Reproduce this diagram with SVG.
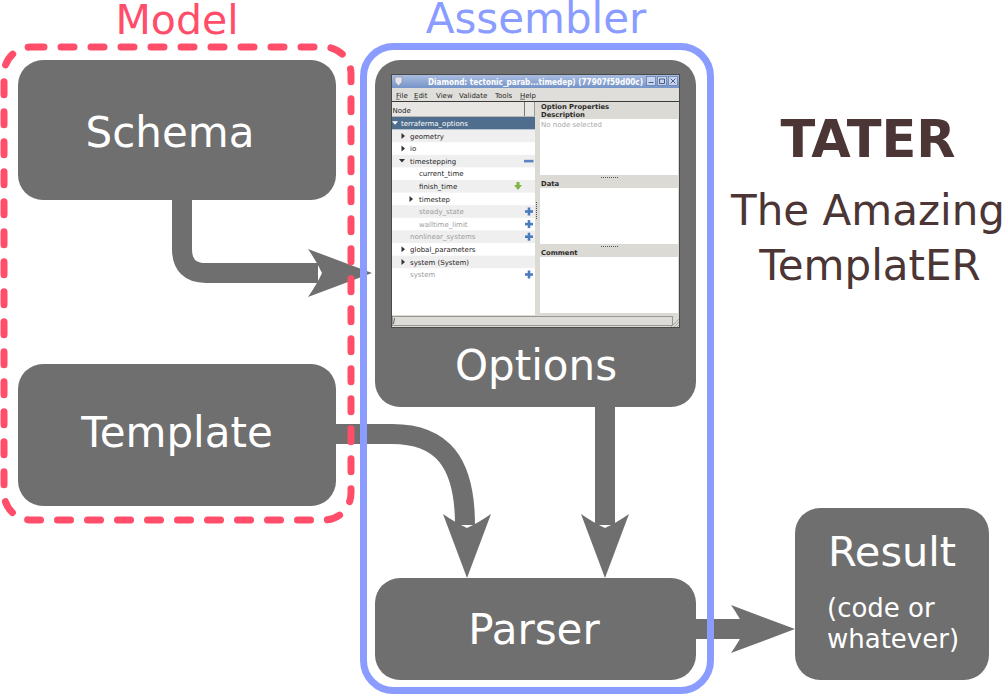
<svg xmlns="http://www.w3.org/2000/svg" width="1005" height="696" viewBox="0 0 1005 696">
<defs>
<style>
.node{fill:#6f6f6f}
.lbl{font-family:"DejaVu Sans",sans-serif;fill:#ffffff;text-anchor:middle}
.conn{fill:none;stroke:#6f6f6f;stroke-width:20}
.head{fill:#6f6f6f}
.g{font-family:"DejaVu Sans",sans-serif;font-size:7px;fill:#1e1e1e}
.gb{font-family:"DejaVu Sans",sans-serif;font-size:6.8px;font-weight:bold;fill:#2a2a2a}
.dim{fill:#9c9c9c}
.alt{fill:#efefef}
.panel{fill:#dcdad5}
.box{fill:#ffffff}
.plus{fill:#4b7bbf}
.dots{stroke:#555;stroke-width:1;stroke-dasharray:1 1;fill:none}
.tri{fill:#333}
</style>
<linearGradient id="tbar" x1="0" y1="0" x2="0" y2="1">
<stop offset="0" stop-color="#aec0e2"/>
<stop offset="1" stop-color="#7594c8"/>
</linearGradient>
<path id="head" d="M0,0 L-64,-24 Q-55,-11 -50,0 Q-55,11 -64,24 Z"/>
<path id="triR" d="M-1.5,-3 L2,0 L-1.5,3 Z"/>
<path id="triD" d="M-3,-1.5 L3,-1.5 L0,2 Z"/>
<g id="plusI"><rect x="-4" y="-1.3" width="8" height="2.6"/><rect x="-1.3" y="-4" width="2.6" height="8"/></g>
</defs>

<rect width="1005" height="696" fill="#ffffff"/>

<!-- group titles -->
<text x="177" y="34" font-family="DejaVu Sans, sans-serif" font-size="41" fill="#ff4d6a" text-anchor="middle">Model</text>
<text x="536" y="33" font-family="DejaVu Sans, sans-serif" font-size="42" fill="#8a9cff" text-anchor="middle">Assembler</text>

<!-- title -->
<g id="title">
<text x="868" y="157" font-family="DejaVu Sans, sans-serif" font-size="51" font-weight="bold" fill="#4b3535" text-anchor="middle">TATER</text>
<text x="868" y="225" font-family="DejaVu Sans, sans-serif" font-size="42" fill="#4b3535" text-anchor="middle">The Amazing</text>
<text x="870" y="280" font-family="DejaVu Sans, sans-serif" font-size="42" fill="#4b3535" text-anchor="middle">TemplatER</text>
</g>

<!-- nodes -->
<g id="schema">
<rect class="node" x="18" y="60" width="318" height="140" rx="25"/>
<text class="lbl" x="170" y="147" font-size="42">Schema</text>
</g>
<g id="template">
<rect class="node" x="18" y="364" width="318" height="142" rx="25"/>
<text class="lbl" x="177" y="447" font-size="42">Template</text>
</g>
<g id="parser">
<rect class="node" x="375" y="578" width="321" height="102" rx="25"/>
<text class="lbl" x="534" y="644" font-size="42">Parser</text>
</g>
<g id="result">
<rect class="node" x="795" y="508" width="194" height="172" rx="25"/>
<text class="lbl" x="892" y="566" font-size="41.5">Result</text>
<text x="827" y="617" font-family="DejaVu Sans, sans-serif" font-size="26" fill="#ffffff">(code or</text>
<text x="827" y="648" font-family="DejaVu Sans, sans-serif" font-size="26" fill="#ffffff">whatever)</text>
</g>
<g id="options">
<rect class="node" x="375" y="60" width="321" height="347" rx="25"/>
<text class="lbl" x="536" y="380" font-size="42">Options</text>
<!-- Diamond GUI screenshot -->
<g id="screenshot" transform="translate(391,74)">
<rect x="0" y="0" width="289" height="254" fill="#dcdad5"/>
<rect x="0" y="0" width="289" height="14" fill="url(#tbar)"/>
<path d="M4,3 H11 V8 L7.5,12 L4,8 Z" fill="#e4e4ea" stroke="#8a8a99" stroke-width="0.6"/>
<text x="37" y="10.5" font-family="DejaVu Sans, sans-serif" font-size="8" font-weight="bold" fill="#ffffff" textLength="215" lengthAdjust="spacingAndGlyphs">Diamond: tectonic_parab...timedep) (77907f59d00c)</text>
<g fill="#c8d5ec" stroke="#5a77aa" stroke-width="0.7">
<rect x="255.5" y="2.5" width="9" height="9"/>
<rect x="266.5" y="2.5" width="9" height="9"/>
<rect x="277.5" y="2.5" width="9" height="9"/>
</g>
<path d="M257.5,8.5 H262.5 M268.5,5 H273.5 V9.5 H268.5 Z M279.5,4.5 L284.5,9.5 M284.5,4.5 L279.5,9.5" stroke="#3b4f78" stroke-width="0.9" fill="none"/>
<rect x="0" y="14" width="289" height="13" fill="#e0deda"/>
<text class="g" x="5" y="24">File</text>
<text class="g" x="23" y="24">Edit</text>
<text class="g" x="45" y="24">View</text>
<text class="g" x="68" y="24">Validate</text>
<text class="g" x="104" y="24">Tools</text>
<text class="g" x="129" y="24">Help</text>
<path d="M5,25.2 H8.5 M23,25.2 H27 M129,25.2 H134" stroke="#1e1e1e" stroke-width="0.6"/>
<line x1="0" y1="27.5" x2="289" y2="27.5" stroke="#3a3a3a" stroke-width="1"/>
<!-- left panel -->
<rect x="0" y="28" width="144" height="213" fill="#ffffff"/>
<rect x="0" y="28" width="144" height="14" fill="#e7e6e3"/>
<line x1="0" y1="42.5" x2="144" y2="42.5" stroke="#b8b6b2" stroke-width="1"/>
<line x1="133.5" y1="28" x2="133.5" y2="42" stroke="#777" stroke-width="1"/>
<line x1="143.5" y1="28" x2="143.5" y2="42" stroke="#999" stroke-width="1"/>
<text class="g" x="1.5" y="38.5">Node</text>
<rect x="0" y="43" width="144" height="12.6" fill="#4f6d8d"/>
<rect class="alt" x="0" y="55.6" width="144" height="12.6"/>
<rect class="alt" x="0" y="80.8" width="144" height="12.6"/>
<rect class="alt" x="0" y="106" width="144" height="12.6"/>
<rect class="alt" x="0" y="131.2" width="144" height="12.6"/>
<rect class="alt" x="0" y="156.4" width="144" height="12.6"/>
<rect class="alt" x="0" y="181.6" width="144" height="12.6"/>
<use href="#triD" x="4" y="48.8" fill="#ffffff"/>
<text class="g" x="10" y="52" style="fill:#ffffff">terraferma_options</text>
<use href="#triR" class="tri" x="12" y="61.9"/>
<text class="g" x="19" y="64.6">geometry</text>
<use href="#triR" class="tri" x="12" y="74.5"/>
<text class="g" x="19" y="77.2">io</text>
<use href="#triD" class="tri" x="11" y="86.6"/>
<text class="g" x="19" y="89.8">timestepping</text>
<rect x="133" y="85.8" width="9.5" height="2.6" fill="#5b82c2"/>
<text class="g" x="28" y="102.4">current_time</text>
<text class="g" x="28" y="115">finish_time</text>
<path d="M125.5,108 H128.5 V111 H131 L127,116 L123,111 H125.5 Z" fill="#7db443"/>
<use href="#triR" class="tri" x="20" y="124.9"/>
<text class="g" x="28" y="127.6">timestep</text>
<text class="g dim" x="28" y="140.2">steady_state</text>
<use href="#plusI" class="plus" x="138" y="137.5"/>
<text class="g dim" x="28" y="152.8">walltime_limit</text>
<use href="#plusI" class="plus" x="138" y="150.1"/>
<text class="g dim" x="19" y="165.4">nonlinear_systems</text>
<use href="#plusI" class="plus" x="138" y="162.7"/>
<use href="#triR" class="tri" x="12" y="175.3"/>
<text class="g" x="19" y="178">global_parameters</text>
<use href="#triR" class="tri" x="12" y="187.9"/>
<text class="g" x="19" y="190.6">system (System)</text>
<text class="g dim" x="19" y="203.2">system</text>
<use href="#plusI" class="plus" x="138" y="200.5"/>
<!-- splitter -->
<line class="dots" x1="145.5" y1="128" x2="145.5" y2="146"/>
<!-- right panel -->
<text class="gb" x="150" y="35">Option Properties</text>
<text class="gb" x="150" y="43">Description</text>
<rect class="box" x="149" y="45" width="138" height="56"/>
<text class="g" x="150" y="52.5" font-size="6.8" style="fill:#a8a8a8">No node selected</text>
<line class="dots" x1="210" y1="103.5" x2="228" y2="103.5"/>
<text class="gb" x="150" y="112">Data</text>
<rect class="box" x="149" y="114" width="138" height="56"/>
<line class="dots" x1="210" y1="172.5" x2="228" y2="172.5"/>
<text class="gb" x="150" y="181">Comment</text>
<rect class="box" x="149" y="183" width="138" height="56"/>
<!-- status bar -->
<rect x="0" y="241" width="289" height="13" fill="#dcdad5"/>
<rect x="1.5" y="242.5" width="280" height="9" fill="#dedcd8" stroke="#8a8884" stroke-width="0.8"/>
<line x1="2.5" y1="250" x2="3.5" y2="244" stroke="#333" stroke-width="0.7"/>
<path d="M280,253 L288,245 M283,253 L288,248 M286,253 L288,251" stroke="#9a9894" stroke-width="0.8"/>
<rect x="0.5" y="0.5" width="288" height="253" fill="none" stroke="#4a4a4a" stroke-width="1"/>
</g>
</g>

<!-- connectors -->
<g id="connectors">
<path class="conn" d="M182,200 V249 Q182,273 206,273 H318"/>
<use href="#head" class="head" transform="translate(372,273)"/>
<path class="conn" d="M336,434 H392 C442,434 465,462 465,525"/>
<use href="#head" class="head" transform="translate(467,578) rotate(90)"/>
<path class="conn" d="M605,407 V525"/>
<use href="#head" class="head" transform="translate(605,578) rotate(90)"/>
<path class="conn" d="M696,629 H745"/>
<use href="#head" class="head" transform="translate(795,629)"/>
</g>

<!-- group containers -->
<g id="model-group">
<rect x="4" y="47" width="347" height="473" rx="27" fill="none" stroke="#ff4d6a" stroke-width="7" stroke-linecap="round" stroke-dasharray="13 17"/>
</g>
<g id="assembler-group">
<rect x="363.5" y="46.5" width="347" height="644" rx="30" fill="none" stroke="#8a9cff" stroke-width="7"/>
</g>
</svg>
